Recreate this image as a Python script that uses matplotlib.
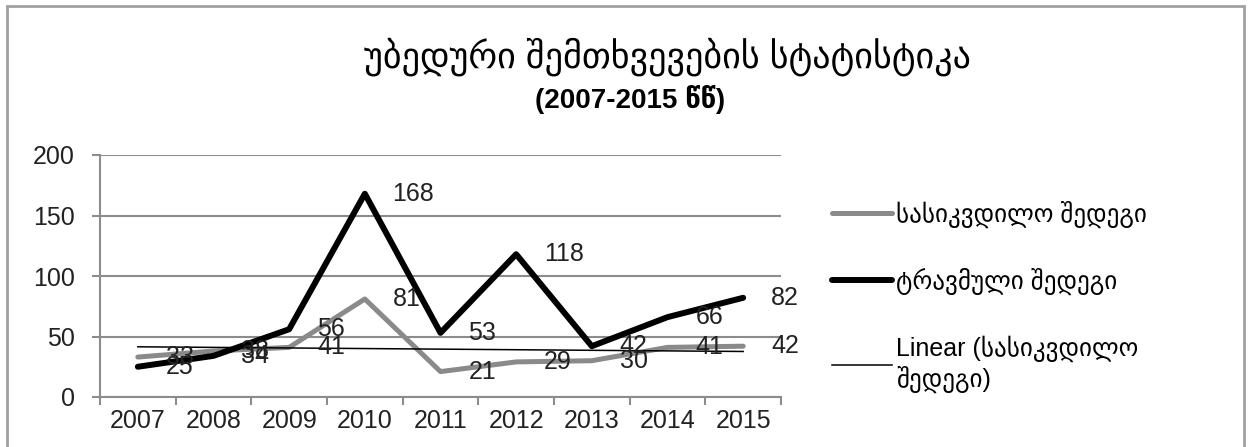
import numpy as np
import matplotlib
matplotlib.use("Agg")
import matplotlib.pyplot as plt
from matplotlib.patches import Rectangle

plt.rcParams['font.family'] = ['Liberation Sans', 'DejaVu Sans']

years = ['2007', '2008', '2009', '2010', '2011', '2012', '2013', '2014', '2015']
fatal = [33, 38, 41, 81, 21, 29, 30, 41, 42]        # სასიკვდილო შედეგი
trauma = [25, 34, 56, 168, 53, 118, 42, 66, 82]     # ტრავმული შედეგი
yticks = [0, 50, 100, 150, 200]

title1 = 'უბედური შემთხვევების სტატისტიკა'
title2 = '(2007-2015 წწ)'
lbl_fatal = 'სასიკვდილო შედეგი'
lbl_trauma = 'ტრავმული შედეგი'
lbl_trend = 'Linear (სასიკვდილო\nშედეგი)'

gray = '#8a8a8a'
axcol = '#8c8c8c'
txtcol = '#222222'
fs = 18

fig = plt.figure(figsize=(12.54, 4.47), dpi=100)
ax = fig.add_axes([100 / 1254, 1 - 397 / 447, 681 / 1254, 242 / 447])

x = np.arange(len(years))

# outer chart frame
fig.patches.append(Rectangle((7 / 1254, -0.05), 1237 / 1254, 1.05 - 6 / 447,
                             transform=fig.transFigure, fill=False,
                             edgecolor='#a0a0a0', linewidth=2))

p1, = ax.plot(x, fatal, color=gray, lw=3.6, solid_capstyle='round',
              solid_joinstyle='round', label=lbl_fatal, zorder=3)
p2, = ax.plot(x, trauma, color='black', lw=4.3, solid_capstyle='round',
              solid_joinstyle='round', label=lbl_trauma, zorder=4)

# linear trend of the fatal series
k, b = np.polyfit(x, fatal, 1)
p3, = ax.plot(x, k * x + b, color='black', lw=1.1, label=lbl_trend, zorder=5)

for xi, v in zip(x, fatal):
    ax.annotate(str(v), (xi, v), xytext=(20, 0), textcoords='offset points',
                ha='left', va='center', fontsize=fs, color=txtcol, zorder=6)
for xi, v in zip(x, trauma):
    ax.annotate(str(v), (xi, v), xytext=(20, 0), textcoords='offset points',
                ha='left', va='center', fontsize=fs, color=txtcol, zorder=6)

ax.set_xlim(-0.5, len(years) - 0.5)
ax.set_ylim(0, 200)
ax.set_yticks(yticks)
ax.set_yticklabels([str(t) for t in yticks], fontsize=fs, color=txtcol)
ax.set_xticks(x)
ax.set_xticklabels(years, fontsize=fs, color=txtcol)
ax.set_xticks(np.arange(len(years) + 1) - 0.5, minor=True)

ax.yaxis.grid(True, color=axcol, lw=1.5)
ax.set_axisbelow(True)
for s in ['top', 'right']:
    ax.spines[s].set_visible(False)
for s in ['left', 'bottom']:
    ax.spines[s].set_color(axcol)
    ax.spines[s].set_linewidth(1.5)

ax.tick_params(axis='y', length=6, width=1.5, color=axcol, pad=12)
ax.tick_params(axis='x', which='major', length=0, pad=9)
ax.tick_params(axis='x', which='minor', length=6, width=1.5, color=axcol)

fig.text(668 / 1254, 1 - 57 / 447, title1, ha='center', va='center',
         fontsize=26, color='black')
fig.text(630 / 1254, 1 - 99 / 447, title2, ha='center', va='center',
         fontsize=20, fontweight='bold', color='black')

fig.legend(handles=[p1, p2, p3], loc='upper left',
           bbox_to_anchor=(809 / 1254, 1 - 178 / 447), frameon=False,
           fontsize=fs, handlelength=2.4, handletextpad=0.2,
           labelspacing=1.6)

fig.savefig('out.png', dpi=100)
